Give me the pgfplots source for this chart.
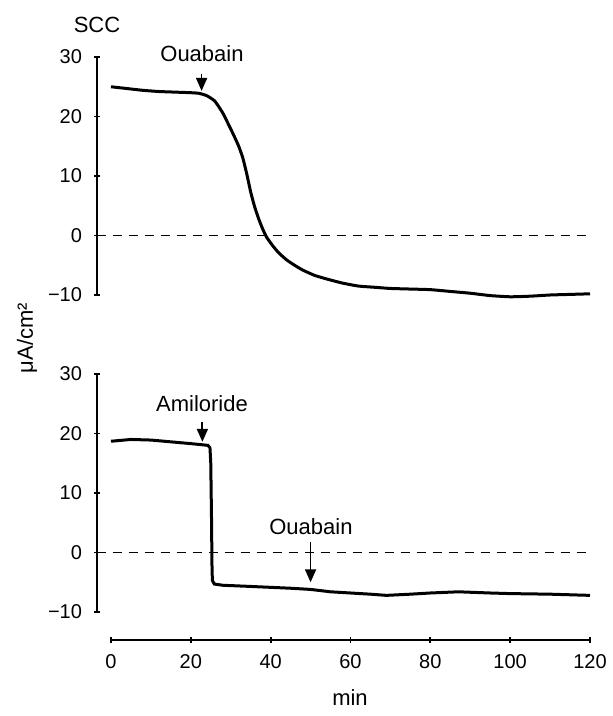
\documentclass[border=0pt]{standalone}
\usepackage{fontspec}
\setmainfont{Liberation Sans}
\usepackage{pgfplots}
\pgfplotsset{compat=1.18}
\usetikzlibrary{arrows.meta}

\pgfplotsset{
  panel/.style={
    scale only axis, width=246.5pt, clip=false,
    xmin=-3.5, xmax=120, ymax=30,
    ytick={-10,0,10,20,30}, yticklabels={−10,0,10,20,30},
    tick align=outside, major tick length=3pt,
    every tick/.style={black, line width=0.9pt},
    tick label style={font=\fontsize{10}{12}\selectfont},
    yticklabel style={xshift=-2.5pt},
    xticklabel style={yshift=-2pt},
    /pgf/number format/assume math mode=true,
  },
  curve/.style={black, line width=1.5pt, smooth, tension=0.3},
  zero/.style={black, line width=0.8pt, dash pattern=on 4.5pt off 3.5pt},
}
\tikzset{drug/.style={-{Triangle[length=6.5pt,width=5.5pt]}, line width=0.9pt},
  lab/.style={font=\fontsize{11}{13}\selectfont}}

\begin{document}
\begin{tikzpicture}
\useasboundingbox (0,0) rectangle (306pt,-358pt);

% top: ouabain alone
\begin{axis}[panel, at={(48.5pt,-147.5pt)}, anchor=south west, height=119pt,
  ymin=-10, axis y line=left, axis x line=none, y axis line style={-, line width=0.9pt}]
\addplot[zero] coordinates {(-3.5,0)(119.5,0)};
\addplot[curve] coordinates {(0,25.0)(4,24.7)(8,24.4)(12,24.2)(16,24.1)(20,24.0)(22,23.9)(24,23.5)(26,22.6)(28,20.6)(30,17.9)(31,16.5)(32,15.0)(33,13.1)(34,10.4)(35,7.3)(36,4.8)(37,2.8)(38,1.1)(39,-0.3)(40.5,-1.7)(42,-2.9)(44,-4.1)(46,-5.0)(48,-5.8)(51,-6.7)(54,-7.3)(58,-8.0)(62,-8.5)(66,-8.7)(70,-8.9)(75,-9.0)(80,-9.1)(85,-9.4)(90,-9.7)(95,-10.1)(100,-10.3)(105,-10.2)(110,-10.0)(115,-9.9)(120,-9.8)};
\draw[drug] (axis cs:22.7,27.1) -- (axis cs:22.7,24.3);
\node[lab] at (axis cs:22.8,30.6) {Ouabain};
\end{axis}

% bottom: amiloride then ouabain
\begin{axis}[panel, at={(48.5pt,-320pt)}, anchor=south west, height=133pt,
  ymin=-14.7, axis lines=left, axis line style={draw=none},
  xtick={0,20,...,120}]
\draw[line width=0.9pt] (axis cs:-3.5,-10) -- (axis cs:-3.5,30);
\draw[line width=0.9pt] (axis cs:0,-14.7) -- (axis cs:120,-14.7);
\addplot[zero] coordinates {(-3.5,0)(119.5,0)};
\addplot[black, line width=1.5pt] coordinates {(0,18.7)(5,19.0)(10,18.9)(15,18.6)(20,18.3)(23,18.1)(24.3,18.0)(24.8,17.6)(25.0,15)(25.2,5)(25.3,-2)(25.4,-4.7)(25.9,-5.3)(28,-5.5)(35,-5.7)(45,-6.0)(50,-6.2)(55,-6.6)(60,-6.8)(65,-7.0)(69,-7.2)(75,-7.0)(80,-6.8)(87,-6.6)(95,-6.8)(100,-6.9)(110,-7.0)(120,-7.2)};
\draw[drug] (axis cs:22.9,21.9) -- (axis cs:22.9,18.6);
\node[lab] at (axis cs:22.8,25.0) {Amiloride};
\draw[drug] (axis cs:50,1.8) -- (axis cs:50,-5.0);
\node[lab] at (axis cs:50.1,4.3) {Ouabain};
\end{axis}

\node[lab] at (48.5pt,-12.5pt) {SCC};
\node[lab, rotate=90] at (13.5pt,-169pt) {μA/cm²};
\node[lab] at (175pt,-349pt) {min};
\end{tikzpicture}
\end{document}
